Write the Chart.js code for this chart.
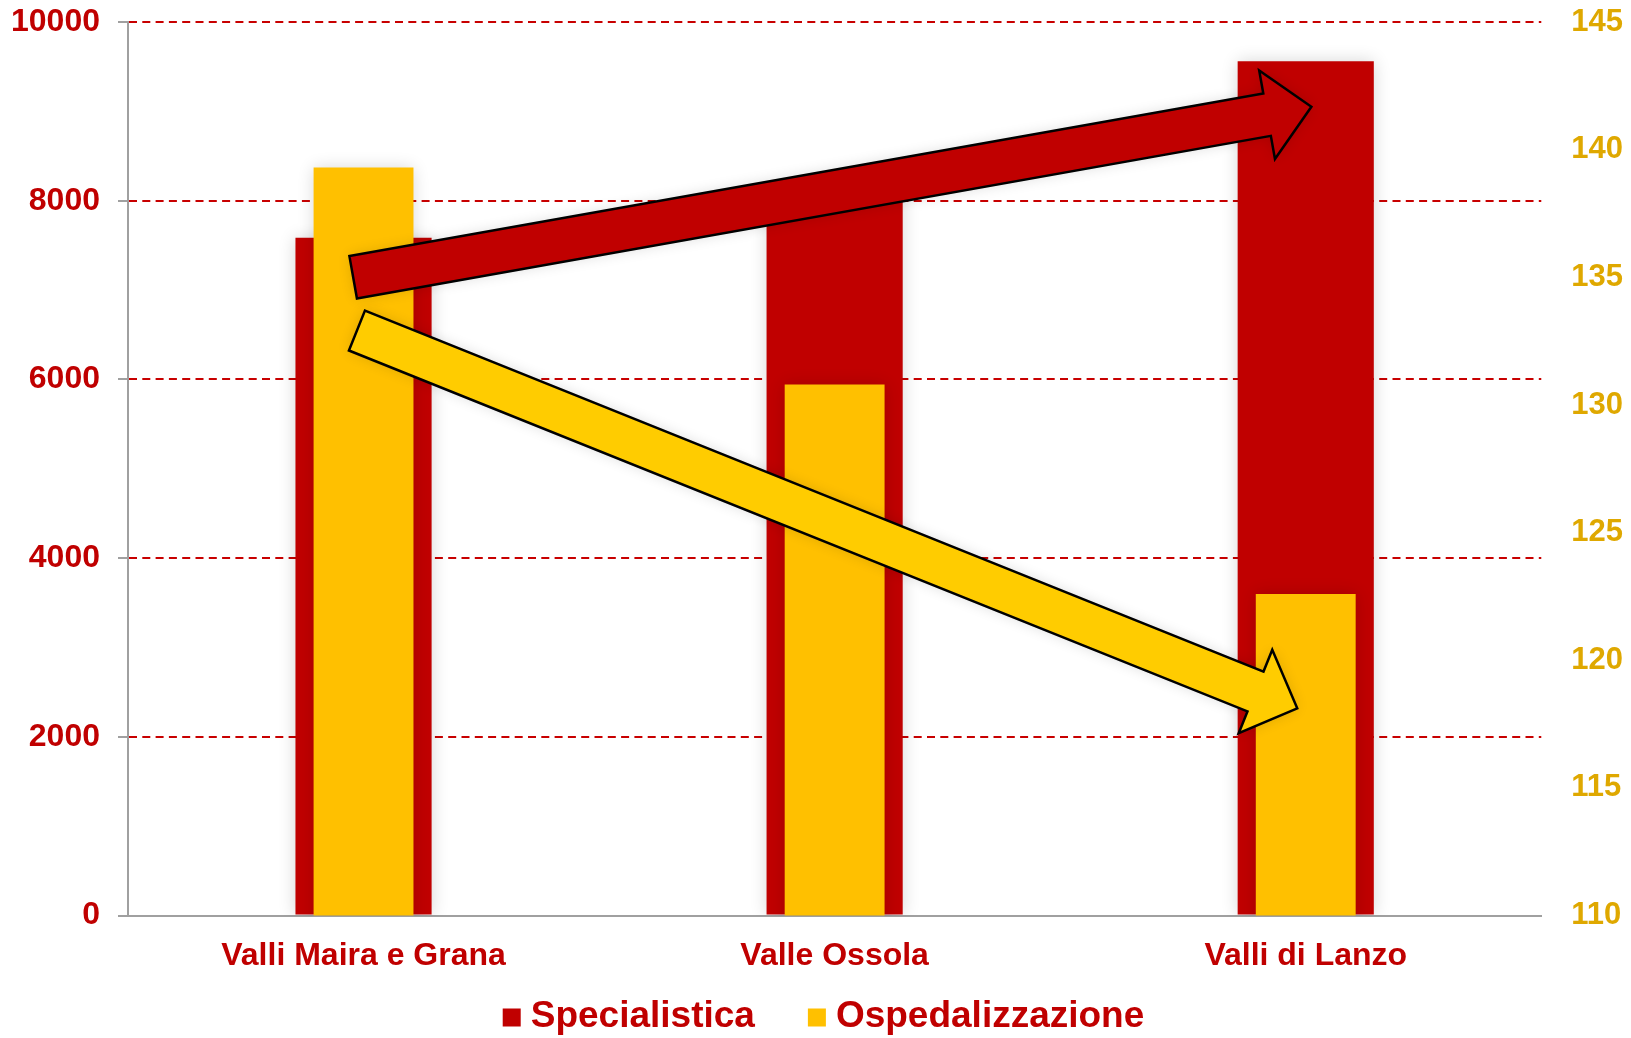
<!DOCTYPE html>
<html lang="it">
<head>
<meta charset="utf-8">
<title>Specialistica e Ospedalizzazione</title>
<script src="https://cdn.jsdelivr.net/npm/chart.js@4.4.1/dist/chart.umd.min.js"></script>
<style>
  html, body { margin: 0; padding: 0; background: #fff; overflow: hidden; }
  #wrap { width: 1631px; height: 1038px; }
</style>
</head>
<body>
<div id="wrap"><canvas id="chart"></canvas></div>
<script>
const categories = ["Valli Maira e Grana", "Valle Ossola", "Valli di Lanzo"];
const specialistica = [7585, 8100, 9560];      // asse sinistro
const ospedalizzazione = [139.3, 130.8, 122.6]; // asse destro
const leftTicks = [0, 2000, 4000, 6000, 8000, 10000];
const rightTicks = [110, 115, 120, 125, 130, 135, 140, 145];

const RED = "#C00000";
const YELLOW = "#FFC000";
const GOLD = "#DFA800";
const FONT = '"Liberation Sans", Arial, sans-serif';

// trend arrows, anchored in axis units (category index, left-axis value)
const trendArrows = [
  { from: [-0.022, 7143], to: [2.012, 9051], fill: "#C00000" },
  { from: [-0.014, 6547], to: [1.982, 2320], fill: "#FFCC00" },
];

// keep the tick labels from pushing the plot area down
const noEdgePadding = axis => {
  axis.paddingTop = 0;
  axis.paddingBottom = 0;
};

const barShadow = {
  id: "barShadow",
  beforeDatasetDraw(chart) {
    const ctx = chart.ctx;
    ctx.save();
    ctx.shadowColor = "rgba(0,0,0,0.16)";
    ctx.shadowBlur = 16;
  },
  afterDatasetDraw(chart) {
    chart.ctx.restore();
  },
};

const arrowsPlugin = {
  id: "arrows",
  afterDatasetsDraw(chart) {
    const { ctx } = chart;
    const xs = chart.scales.x, ys = chart.scales.y;
    const shaft = 21.5, head = 45, headLen = 45;
    trendArrows.forEach(a => {
      const tx = xs.getPixelForValue(a.from[0]), ty = ys.getPixelForValue(a.from[1]);
      const px = xs.getPixelForValue(a.to[0]), py = ys.getPixelForValue(a.to[1]);
      const len = Math.hypot(px - tx, py - ty);
      const ux = (px - tx) / len, uy = (py - ty) / len;
      const nx = -uy, ny = ux;
      const bx = px - ux * headLen, by = py - uy * headLen;
      const pts = [
        [tx + nx * shaft, ty + ny * shaft],
        [bx + nx * shaft, by + ny * shaft],
        [bx + nx * head, by + ny * head],
        [px, py],
        [bx - nx * head, by - ny * head],
        [bx - nx * shaft, by - ny * shaft],
        [tx - nx * shaft, ty - ny * shaft],
      ];
      ctx.save();
      ctx.beginPath();
      pts.forEach((p, i) => (i ? ctx.lineTo(p[0], p[1]) : ctx.moveTo(p[0], p[1])));
      ctx.closePath();
      ctx.shadowColor = "rgba(0,0,0,0.14)";
      ctx.shadowBlur = 14;
      ctx.fillStyle = a.fill;
      ctx.fill();
      ctx.shadowColor = "transparent";
      ctx.lineWidth = 2.5;
      ctx.lineJoin = "miter";
      ctx.strokeStyle = "#000";
      ctx.stroke();
      ctx.restore();
    });
  },
};

// legend row under the category labels
const legendRow = {
  id: "legendRow",
  afterDraw(chart) {
    const { ctx } = chart;
    const items = [chart.data.datasets[0], chart.data.datasets[1]];
    const box = 18, textGap = 10, itemGap = 53;
    ctx.save();
    ctx.font = "bold 37px " + FONT;
    const widths = items.map(ds => box + textGap + ctx.measureText(ds.label).width);
    const total = widths.reduce((s, w) => s + w, 0) + itemGap * (items.length - 1);
    let x = chart.width / 2 + 8 - total / 2;
    const base = chart.height - 11;
    ctx.textBaseline = "alphabetic";
    items.forEach((ds, i) => {
      ctx.fillStyle = ds.backgroundColor;
      ctx.fillRect(x, base - 18.5, box, box);
      ctx.fillStyle = RED;
      ctx.fillText(ds.label, x + box + textGap, base);
      x += widths[i] + itemGap;
    });
    ctx.restore();
  },
};

new Chart(document.getElementById("chart"), {
  type: "bar",
  data: {
    labels: categories,
    datasets: [
      {
        label: "Specialistica",
        data: specialistica,
        yAxisID: "y",
        backgroundColor: RED,
        barPercentage: 0.289,
        categoryPercentage: 1,
        order: 2,
      },
      {
        label: "Ospedalizzazione",
        data: ospedalizzazione,
        yAxisID: "y2",
        backgroundColor: YELLOW,
        barPercentage: 0.212,
        categoryPercentage: 1,
        order: 1,
      },
    ],
  },
  options: {
    responsive: true,
    maintainAspectRatio: false,
    animation: false,
    grouped: false,
    layout: { padding: { left: -7, right: -22, top: 22, bottom: 42 } },
    plugins: {
      legend: { display: false },
      tooltip: { enabled: false },
    },
    scales: {
      x: {
        grid: { display: false, drawTicks: false },
        border: { display: true, color: "#A0A0A0", width: 2 },
        ticks: {
          color: RED,
          padding: 21,
          font: { family: FONT, size: 32, weight: "bold" },
        },
      },
      y: {
        position: "left",
        min: 0,
        max: 10000,
        afterBuildTicks: axis => { axis.ticks = leftTicks.map(v => ({ value: v })); },
        afterFit: noEdgePadding,
        grid: {
          color: "#C80000",
          lineWidth: 2,
          tickLength: 10,
          tickColor: "#A0A0A0",
          tickWidth: 2,
        },
        border: { display: true, color: "#A0A0A0", width: 2, dash: [8, 5.3] },
        ticks: {
          color: RED,
          padding: 18,
          callback: v => String(v),
          font: { family: FONT, size: 32, weight: "bold" },
        },
      },
      y2: {
        position: "right",
        min: 110,
        max: 145,
        afterBuildTicks: axis => { axis.ticks = rightTicks.map(v => ({ value: v })); },
        afterFit: noEdgePadding,
        grid: { display: false, drawTicks: false },
        border: { display: false },
        ticks: {
          color: GOLD,
          padding: 30,
          callback: v => String(v),
          font: { family: FONT, size: 31, weight: "bold" },
        },
      },
    },
  },
  plugins: [barShadow, arrowsPlugin, legendRow],
});
</script>
</body>
</html>
